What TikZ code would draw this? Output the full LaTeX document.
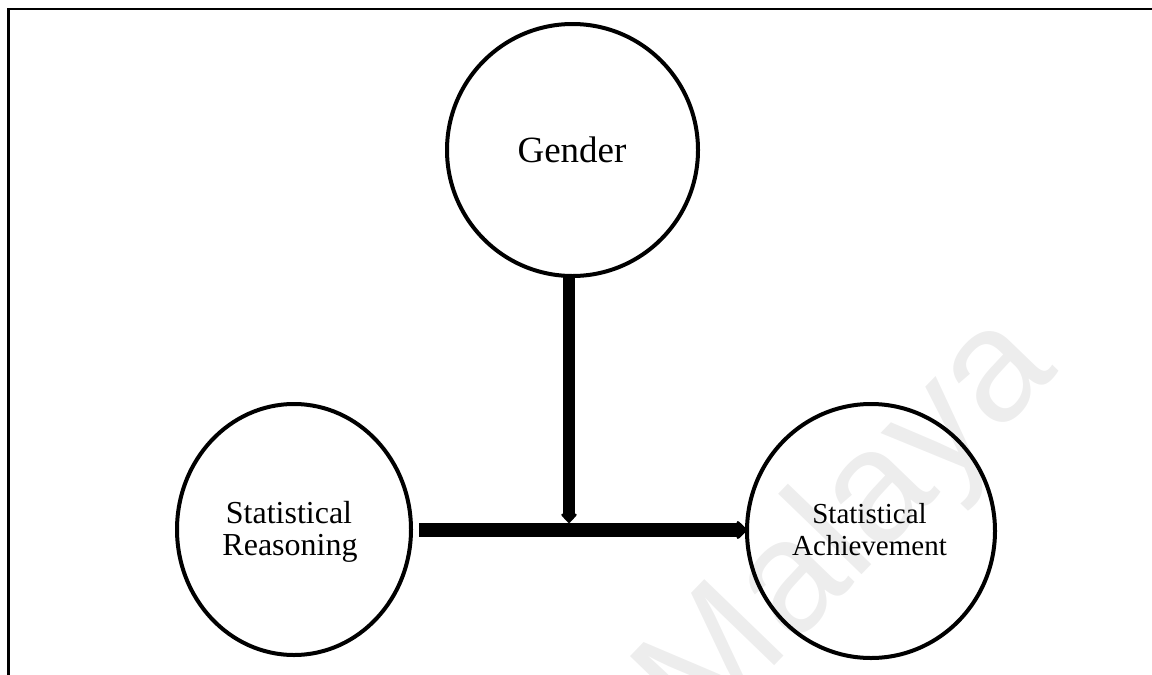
\documentclass[tikz,border=0pt]{standalone}
\usepackage{fontspec}
\setmainfont{Liberation Serif}
\newfontfamily\wmfont{Liberation Sans}
\usetikzlibrary{shapes.geometric,arrows.meta}

\tikzset{
  var/.style={ellipse, draw=black, line width=4pt, inner sep=0pt, outer sep=0pt},
  lbl/.style={anchor=base, inner sep=0pt, text=black},
  flow/.style={line width=14pt, -{Triangle[width=21pt,length=11pt,round]}},
  moder/.style={line width=12pt, -{Triangle[width=18pt,length=10pt,round]}},
  frame/.style={line width=2.8pt, line join=miter},
  wmark/.style={text=black!7, inner sep=0pt}
}

\begin{document}
\begin{tikzpicture}[x=1pt, y=-1pt]
  \useasboundingbox (0,0) rectangle (1152,675);

  % repository watermark
  \node[wmark, rotate=46] (wm) at (850,528) {\wmfont\fontsize{160pt}{160pt}\selectfont Malaya};

  % page frame (open at the bottom and right)
  \coordinate (fl) at (8.5,675);
  \coordinate (ftl) at (8.5,9);
  \coordinate (ftr) at (1152,9);
  \draw[frame] (fl) -- (ftl) -- (ftr);

  % variables
  \node[var, minimum width=251pt, minimum height=252pt] (G)  at (572.5,150) {};
  \node[var, minimum width=234pt, minimum height=251pt] (SR) at (294,529.5) {};
  \node[var, minimum width=248pt, minimum height=254pt] (SA) at (871,531) {};

  \node[lbl] (Gt) at (572,162) {\fontsize{37pt}{37pt}\selectfont Gender};
  \node[lbl] (SRt1) at (289,523) {\fontsize{32pt}{32pt}\selectfont Statistical};
  \node[lbl] (SRt2) at (290,555) {\fontsize{32pt}{32pt}\selectfont Reasoning};
  \node[lbl] (SAt1) at (869.5,523) {\fontsize{29pt}{29pt}\selectfont Statistical};
  \node[lbl] (SAt2) at (869.5,555) {\fontsize{29pt}{29pt}\selectfont Achievement};

  % main path and moderating path
  \coordinate (j) at (569,523);
  \draw[flow] (SR.east |- 0,530) ++(8,0) coordinate (hs) -- (SA.west |- hs);
  \draw[moder] (G.south -| j) -- (j);
\end{tikzpicture}
\end{document}
